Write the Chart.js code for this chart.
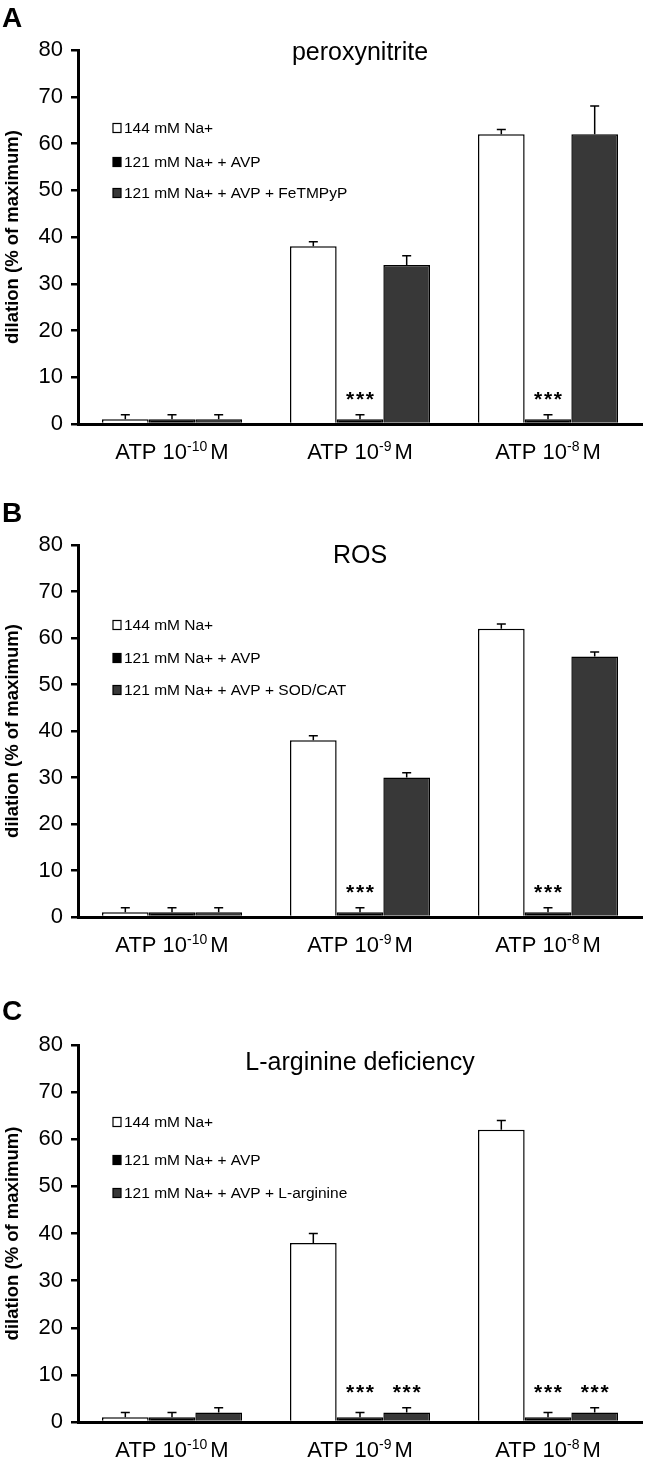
<!DOCTYPE html>
<html>
<head>
<meta charset="utf-8">
<script src="https://cdn.jsdelivr.net/npm/chart.js@4.4.0/dist/chart.umd.min.js"></script>
<style>
  body { margin: 0; background: #fff; width: 645px; }
  canvas { display: block; }
</style>
</head>
<body>
<canvas id="chartA" width="645" height="490"></canvas>
<canvas id="chartB" width="645" height="495"></canvas>
<canvas id="chartC" width="645" height="480"></canvas>
<script>
// categorias: base + exponente (superindice) + unidad
const catBase = 'ATP 10';
const catExp = ['-10', '-9', '-8'];
const catUnit = 'M';
const categories = catExp.map(e => catBase + e + ' ' + catUnit);
const yTitle = 'dilation (% of maximum)';
const control = '144 mM Na+';
const avp = '121 mM Na+ + AVP';

// panel A - peroxynitrite
const namesA = [control, avp, '121 mM Na+ + AVP + FeTMPyP'];
const controlA = [1, 38, 62];
const controlErrA = [1, 1, 1];
const avpA = [1, 1, 1];
const avpErrA = [1, 1, 1];
const treatA = [1, 34, 62];
const treatErrA = [1, 2, 6];
const starsA = [[false, false, false], [false, true, true], [false, false, false]];

// panel B - ROS
const namesB = [control, avp, '121 mM Na+ + AVP + SOD/CAT'];
const controlB = [1, 38, 62];
const controlErrB = [1, 1, 1];
const avpB = [1, 1, 1];
const avpErrB = [1, 1, 1];
const treatB = [1, 30, 56];
const treatErrB = [1, 1, 1];
const starsB = [[false, false, false], [false, true, true], [false, false, false]];

// panel C - L-arginine deficiency
const namesC = [control, avp, '121 mM Na+ + AVP + L-arginine'];
const controlC = [1, 38, 62];
const controlErrC = [1, 2, 2];
const avpC = [1, 1, 1];
const avpErrC = [1, 1, 1];
const treatC = [2, 2, 2];
const treatErrC = [1, 1, 1];
const starsC = [[false, false, false], [false, true, true], [false, true, true]];

const FONT = '"Liberation Sans", Arial, sans-serif';
const fills = ['#ffffff', '#000000', '#383838'];

function panelPlugin(p) {
  return {
    id: 'panel' + p.letter,
    afterDatasetsDraw(chart) {
      const ctx = chart.ctx;
      const yS = chart.scales.y;
      ctx.save();
      ctx.strokeStyle = '#000';
      ctx.lineWidth = 1.5;
      // barras de error (solo hacia arriba)
      chart.data.datasets.forEach((ds, i) => {
        const meta = chart.getDatasetMeta(i);
        meta.data.forEach((bar, j) => {
          const top = yS.getPixelForValue(ds.data[j] + p.errors[i][j]);
          ctx.beginPath();
          ctx.moveTo(bar.x, bar.y);
          ctx.lineTo(bar.x, top);
          ctx.moveTo(bar.x - 4.5, top);
          ctx.lineTo(bar.x + 4.5, top);
          ctx.stroke();
        });
      });
      // asteriscos
      ctx.fillStyle = '#000';
      ctx.font = 'bold 21px ' + FONT;
      ctx.textAlign = 'center';
      ctx.textBaseline = 'alphabetic';
      categories.forEach((c, j) => {
        let maxTop = 0;
        p.stars.forEach((row, i) => {
          if (row[j]) maxTop = Math.max(maxTop, p.values[i][j] + p.errors[i][j]);
        });
        p.stars.forEach((row, i) => {
          if (!row[j]) return;
          const bar = chart.getDatasetMeta(i).data[j];
          const y = yS.getPixelForValue(maxTop) - 9;
          ctx.fillText('*\u200A*\u200A*', bar.x, y);
        });
      });
      ctx.restore();
    },
    afterDraw(chart) {
      const ctx = chart.ctx;
      const area = chart.chartArea;
      const xS = chart.scales.x;
      ctx.save();
      ctx.fillStyle = '#000';
      // letra del panel
      ctx.font = 'bold 28px ' + FONT;
      ctx.textAlign = 'left';
      ctx.textBaseline = 'alphabetic';
      ctx.fillText(p.letter, 2, p.letterY);
      // titulo
      ctx.font = '25px ' + FONT;
      ctx.textAlign = 'center';
      ctx.fillText(p.title, (area.left + area.right) / 2, area.top + p.titleY);
      // etiquetas del eje x con superindice
      ctx.textAlign = 'left';
      catExp.forEach((e, j) => {
        const cx = xS.getPixelForTick(j);
        ctx.font = '22px ' + FONT;
        const wBase = ctx.measureText(catBase).width;
        const wUnit = ctx.measureText(catUnit).width;
        ctx.font = '14px ' + FONT;
        const wExp = ctx.measureText(e).width;
        const total = wBase + wExp + 3 + wUnit;
        let x = cx - total / 2;
        const yb = area.bottom + 35;
        ctx.font = '22px ' + FONT;
        ctx.fillText(catBase, x, yb);
        x += wBase;
        ctx.font = '14px ' + FONT;
        ctx.fillText(e, x, yb - 8);
        x += wExp + 3;
        ctx.font = '22px ' + FONT;
        ctx.fillText(catUnit, x, yb);
      });
      // leyenda dentro del grafico
      ctx.font = '15.5px ' + FONT;
      ctx.textBaseline = 'middle';
      p.names.forEach((name, i) => {
        const y = area.top + p.legendY[i];
        ctx.fillStyle = fills[i];
        ctx.fillRect(113, y - 4.5, 8, 9);
        ctx.strokeStyle = '#000';
        ctx.lineWidth = 1.2;
        ctx.strokeRect(113, y - 4.5, 8, 9);
        ctx.fillStyle = '#000';
        ctx.fillText(name, 124, y + 1);
      });
      ctx.restore();
    }
  };
}

function makePanel(id, p) {
  const canvas = document.getElementById(id);
  return new Chart(canvas, {
    type: 'bar',
    data: {
      labels: categories,
      datasets: p.values.map((vals, i) => ({
        label: p.names[i],
        data: vals,
        backgroundColor: fills[i],
        borderColor: '#000',
        borderWidth: 1.5,
        categoryPercentage: 0.745,
        barPercentage: 1.0
      }))
    },
    options: {
      responsive: false,
      animation: false,
      layout: { padding: { top: p.top, bottom: canvas.height - 40 - p.bottom, left: 0, right: 3 } },
      plugins: { legend: { display: false }, tooltip: { enabled: false } },
      scales: {
        x: {
          grid: { display: false, drawTicks: false },
          border: { display: true, color: '#000', width: 3 },
          ticks: { display: false },
          afterFit: s => { s.height = 40; }
        },
        y: {
          min: 0,
          max: 80,
          ticks: { stepSize: 10, color: '#000', font: { family: FONT, size: 22 }, padding: 8 },
          grid: { drawOnChartArea: false, drawTicks: true, tickLength: 7, color: '#000', lineWidth: 2.5 },
          border: { display: true, color: '#000', width: 3 },
          title: {
            display: true,
            text: yTitle,
            color: '#000',
            font: { family: FONT, size: 18.5, weight: 'bold' },
            padding: { top: 2, bottom: 0 }
          },
          afterFit: s => { s.width = 78; }
        }
      }
    },
    plugins: [panelPlugin(p)]
  });
}

makePanel('chartA', {
  letter: 'A', letterY: 27, title: 'peroxynitrite', titleY: 10,
  names: namesA, values: [controlA, avpA, treatA], errors: [controlErrA, avpErrA, treatErrA],
  stars: starsA, legendY: [78, 112, 143], top: 50, bottom: 424
});
makePanel('chartB', {
  letter: 'B', letterY: 32, title: 'ROS', titleY: 18,
  names: namesB, values: [controlB, avpB, treatB], errors: [controlErrB, avpErrB, treatErrB],
  stars: starsB, legendY: [80, 113, 145], top: 55, bottom: 427
});
makePanel('chartC', {
  letter: 'C', letterY: 35, title: 'L-arginine deficiency', titleY: 25,
  names: namesC, values: [controlC, avpC, treatC], errors: [controlErrC, avpErrC, treatErrC],
  stars: starsC, legendY: [77, 115, 148], top: 60, bottom: 437
});
</script>
</body>
</html>
